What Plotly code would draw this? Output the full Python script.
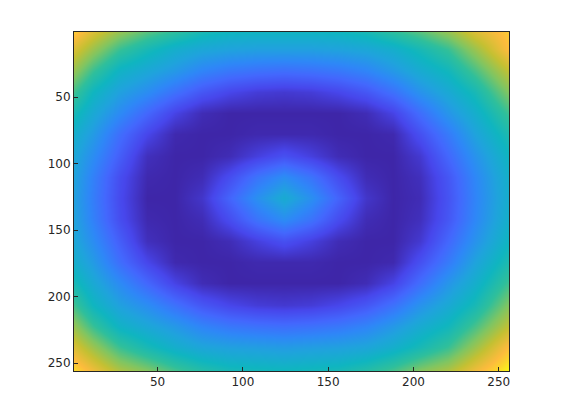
import plotly.graph_objects as go

x_pos = [1, 12, 28, 44, 60, 76, 92, 108, 124, 140, 156, 172, 188, 204, 220, 236, 256]
y_pos = [1, 14, 30, 46, 62, 78, 94, 110, 126, 142, 158, 174, 190, 206, 222, 238, 256]

z_values = [
    [.93, .84, .73, .65, .59, .53, .50, .49, .49, .49, .50, .53, .59, .65, .73, .84, .93],
    [.84, .74, .61, .53, .46, .42, .40, .39, .39, .39, .40, .42, .46, .53, .61, .74, .91],
    [.73, .61, .48, .42, .36, .29, .25, .23, .22, .23, .25, .29, .36, .44, .51, .63, .80],
    [.62, .50, .39, .32, .23, .15, .10, .07, .06, .07, .10, .15, .23, .34, .43, .53, .71],
    [.53, .43, .31, .20, .09, .02, .00, .00, .00, .00, .00, .02, .09, .22, .35, .46, .62],
    [.46, .37, .22, .10, .01, .00, .00, .01, .01, .01, .00, .00, .01, .13, .26, .40, .55],
    [.42, .32, .17, .03, .00, .00, .02, .08, .13, .08, .02, .00, .00, .06, .20, .34, .50],
    [.40, .28, .12, .01, .00, .02, .12, .24, .32, .24, .12, .02, .00, .03, .15, .30, .47],
    [.39, .27, .11, .00, .00, .05, .19, .33, .44, .33, .19, .05, .00, .02, .14, .29, .46],
    [.40, .28, .12, .01, .00, .02, .12, .24, .32, .24, .12, .02, .00, .03, .15, .30, .47],
    [.42, .32, .17, .03, .00, .00, .02, .08, .13, .08, .02, .00, .00, .06, .20, .34, .50],
    [.46, .37, .22, .10, .01, .00, .00, .01, .01, .01, .00, .00, .01, .13, .26, .40, .55],
    [.53, .43, .31, .20, .09, .02, .00, .00, .00, .00, .00, .02, .09, .22, .35, .46, .62],
    [.62, .50, .39, .32, .23, .15, .10, .07, .06, .07, .10, .15, .23, .34, .43, .53, .71],
    [.73, .61, .48, .42, .36, .29, .25, .23, .22, .23, .25, .29, .36, .44, .51, .63, .80],
    [.84, .74, .61, .53, .46, .41, .39, .38, .37, .38, .39, .41, .46, .53, .61, .74, .91],
    [.96, .88, .77, .71, .63, .57, .53, .52, .51, .52, .53, .57, .63, .71, .77, .88, 1.0],
]

tick_vals = [50, 100, 150, 200, 250]

parula = [
    [0.0, "#3e26a8"], [0.1, "#4746eb"], [0.2, "#4367fd"], [0.3, "#2e87f7"],
    [0.4, "#1fa3dc"], [0.5, "#0fb5c0"], [0.6, "#2fbf9b"], [0.7, "#7fc562"],
    [0.8, "#c4c032"], [0.9, "#fcbb3d"], [0.95, "#fbd62c"], [1.0, "#f9fb15"],
]

fig = go.Figure(go.Heatmap(
    x=x_pos, y=y_pos, z=z_values, colorscale=parula, zmin=0, zmax=1,
    zsmooth="best", showscale=False, hoverinfo="skip",
))

axis_style = dict(
    tickmode="array", tickvals=tick_vals, ticks="inside", ticklen=4, tickwidth=1,
    tickcolor="#262626", showgrid=False, zeroline=False, showline=True,
    linecolor="#262626", linewidth=1, mirror=True,
    tickfont=dict(family="DejaVu Sans", size=12, color="#262626"),
)
fig.update_layout(
    width=564, height=418, paper_bgcolor="white", plot_bgcolor="white",
    margin=dict(l=66, r=63, t=24, b=55), autosize=False,
    xaxis=dict(range=[1, 256], **axis_style),
    yaxis=dict(range=[256, 1], **axis_style),
)
fig.write_html("out.html", config=dict(displayModeBar=False))
